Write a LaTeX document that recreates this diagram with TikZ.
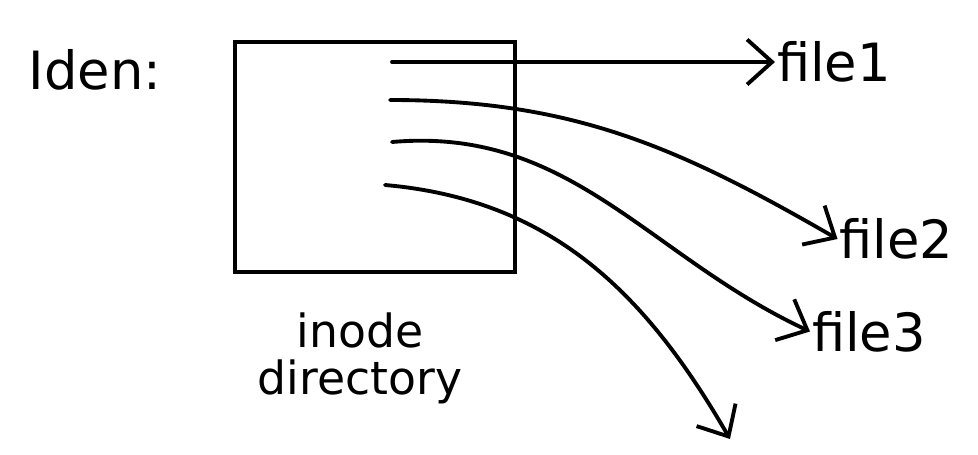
\documentclass[tikz,border=0pt]{standalone}
\usepackage{fontspec}
\setsansfont{DejaVu Sans}
\usetikzlibrary{arrows.meta,positioning}

\begin{document}
\begin{tikzpicture}[
  every node/.style={font=\sffamily},
  lbl/.style={font=\sffamily\fontsize{30}{34}\selectfont,inner sep=1pt},
  caption/.style={font=\sffamily\fontsize{26}{30}\selectfont,inner sep=1pt},
  ptr/.style={-{Straight Barb[length=5mm,width=9mm,line width=2.2pt]},line width=2.2pt,line cap=round},
  dirbox/.style={draw,line width=2.2pt,minimum width=5.6cm,minimum height=4.6cm}]
 \useasboundingbox (0,0) rectangle (19.56,9.08);
 % the directory
 \node[dirbox] (dir) at (7.5,5.94) {};
 \node[lbl,anchor=center] (iden) at (1.9,7.68) {Iden:};
 \node[caption] (inode) at (7.2,2.48) {inode};
 \node[caption,below=0.15cm of inode] (dirname) {directory};
 % entries
 \coordinate (e1) at (7.84,7.84);
 \coordinate (e2) at (7.8,7.08);
 \coordinate (e3) at (7.84,6.24);
 \coordinate (e4) at (7.7,5.38);
 \node[lbl,anchor=west] (f1) at (15.5,7.84) {file1};
 \node[lbl,anchor=west] (f2) at (16.75,4.3) {file2};
 \node[lbl,anchor=west] (f3) at (16.2,2.45) {file3};
 \coordinate (lost) at (14.6,0.3);
 \draw[ptr] (e1) -- (f1.west);
 \draw[ptr] (e2) to[out=0,in=150] (f2.west);
 \draw[ptr] (e3) to[out=5,in=155] (f3.west);
 \draw[ptr] (e4) to[out=-5,in=120] (lost);
\end{tikzpicture}
\end{document}
